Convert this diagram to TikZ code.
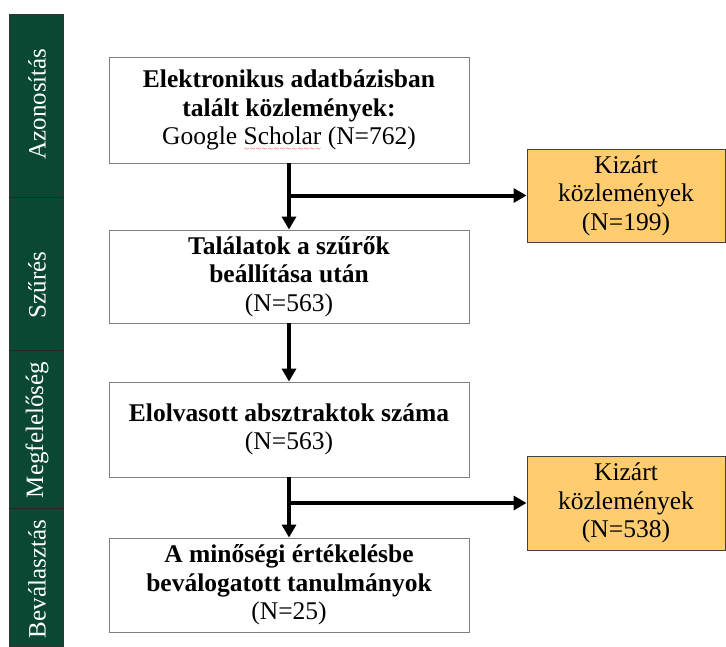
\documentclass[tikz,border=0pt]{standalone}
\usepackage{fontspec}
\setmainfont{Liberation Serif}
\usetikzlibrary{arrows.meta,calc}
\definecolor{sidegreen}{RGB}{10,72,52}
\definecolor{exorange}{RGB}{255,205,112}
\definecolor{boxgray}{RGB}{128,128,128}
\newsavebox\mywordbox
\newcommand\redwave[1]{\sbox\mywordbox{#1}\rlap{\raisebox{-6pt}[0pt][0pt]{\makebox[\wd\mywordbox][l]{\color{red}\xleaders\hbox{\fontsize{6}{6}\selectfont$\sim$}\hfill}}}\usebox\mywordbox}
\tikzset{
  mainbox/.style={draw=boxgray, line width=0.9pt, fill=white, minimum width=360pt, align=center, inner sep=0pt, font=\fontsize{25.5}{28.5}\selectfont},
  exbox/.style={draw=black!75, line width=0.9pt, fill=exorange, minimum width=198pt, align=center, inner sep=0pt, font=\fontsize{25.5}{28.5}\selectfont},
  sidelabel/.style={rotate=90, text=white, font=\fontsize{25}{28}\selectfont, inner sep=0pt},
  flowarrow/.style={line width=4pt, -{Triangle[length=13pt,width=14pt]}}
}
\begin{document}
\begin{tikzpicture}[x=1pt,y=-1pt]
\useasboundingbox (0,0) rectangle (726,646);
% sidebar
\path[fill=sidegreen, draw=black!80, line width=0.8pt] (9,14) rectangle (63,646);
\draw[black!85, line width=0.8pt] (9,197) -- (63,197);
\draw[black!85, line width=0.8pt] (9,350) -- (63,350);
\draw[black!85, line width=0.8pt] (9,508) -- (63,508);
\node[sidelabel] (s1) at (37,104) {Azonosítás};
\node[sidelabel] (s2) at (37,285) {Szűrés};
\node[sidelabel] (s3) at (37,430) {Megfelelőség};
\node[sidelabel] (s4) at (37,579) {Beválasztás};
% main boxes
\node[mainbox, minimum height=106pt] (b1) at (289,110) {\textbf{Elektronikus adatbázisban}\\ \textbf{talált közlemények:}\\ Google \redwave{Scholar} (N=762)};
\node[mainbox, minimum height=93pt] (b2) at (289,276.5) {\textbf{Találatok a szűrők}\\ \textbf{beállítása után}\\ (N=563)};
\node[mainbox, minimum height=95pt] (b3) at (289,429.5) {\textbf{Elolvasott absztraktok száma}\\ (N=563)};
\node[mainbox, minimum height=94pt] (b4) at (289,585) {\textbf{A minőségi értékelésbe}\\ \textbf{beválogatott tanulmányok}\\ (N=25)};
% excluded boxes
\node[exbox, minimum height=93pt] (e1) at (626,195.5) {Kizárt\\ közlemények\\ (N=199)};
\node[exbox, minimum height=94pt] (e2) at (626,503) {Kizárt\\ közlemények\\ (N=538)};
% connectors
\draw[flowarrow] (b1.south) -- (b2.north);
\draw[flowarrow] ([xshift=-2pt]b1.south |- e1.west) -- (e1.west);
\draw[flowarrow] (b2.south) -- (b3.north);
\draw[flowarrow] (b3.south) -- (b4.north);
\draw[flowarrow] ([xshift=-2pt]b3.south |- e2.west) -- (e2.west);
\end{tikzpicture}
\end{document}
